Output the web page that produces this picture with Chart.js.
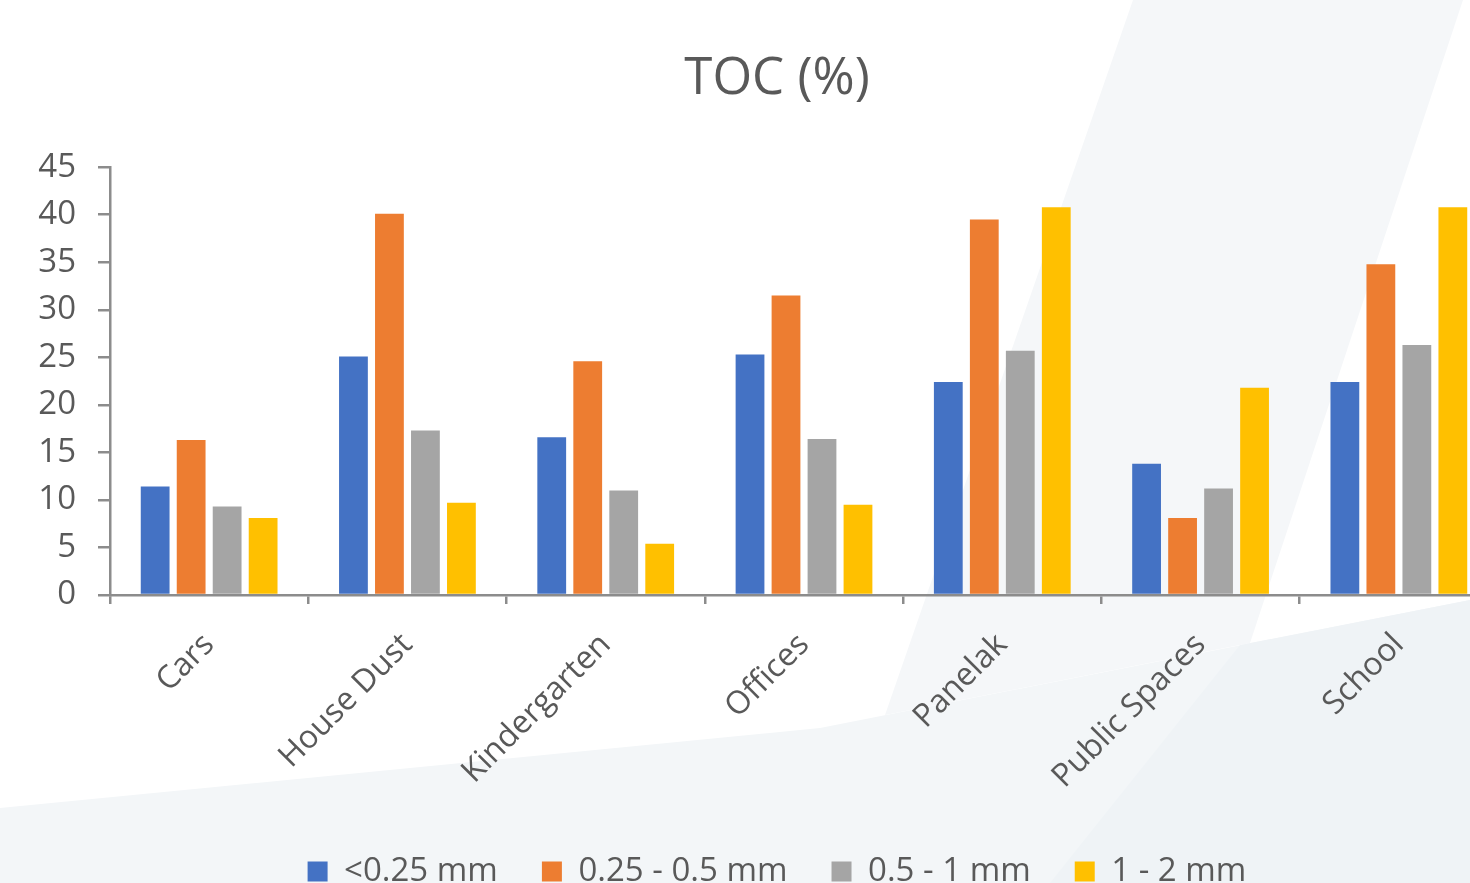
<!DOCTYPE html>
<html>
<head>
<meta charset="utf-8">
<script src="https://cdn.jsdelivr.net/npm/chart.js@4/dist/chart.umd.min.js"></script>
<style>
  html, body { margin: 0; padding: 0; width: 1470px; height: 883px; overflow: hidden; background: #ffffff; }
  #bg { position: absolute; left: 0; top: 0; }
  #wrap { position: absolute; left: 0; top: 0; width: 1554px; height: 898px; }
</style>
</head>
<body>
<svg id="bg" width="1470" height="883">
  <polygon points="1133,0 1463,0 1250,643 885,715" fill="#f5f7f9"/>
  <polygon points="0,808 820,728 1470,600 1470,883 0,883" fill="#f3f6f8"/>
  <polygon points="1240,645 1470,600 1470,883 1050,883" fill="#eff3f6"/>
</svg>
<div id="wrap"><canvas id="myChart" width="1554" height="898"></canvas></div>
<script>
let categories = ['Cars', 'House Dust', 'Kindergarten', 'Offices', 'Panelak', 'Public Spaces', 'School'];
let seriesNames = ['<0.25 mm', '0.25 - 0.5 mm', '0.5 - 1 mm', '1 - 2 mm'];
let fine = [11.4, 25.1, 16.6, 25.3, 22.4, 13.8, 22.4];
let medium = [16.3, 40.1, 24.6, 31.5, 39.5, 8.1, 34.8];
let coarse = [9.3, 17.3, 11.0, 16.4, 25.7, 11.2, 26.3];
let large = [8.1, 9.7, 5.4, 9.5, 40.8, 21.8, 40.8];
let colors = ['#4472C4', '#ED7D31', '#A5A5A5', '#FFC000'];

const font = '"Open Sans", "Noto Sans", sans-serif';
const textColor = '#595959';
const axisColor = '#8c8c8c';

let ctx = document.getElementById('myChart').getContext('2d');

let datasets = [fine, medium, coarse, large].map((values, i) => ({
    label: seriesNames[i],
    data: values,
    backgroundColor: colors[i],
    borderWidth: 0,
    categoryPercentage: 0.726,
    barPercentage: 0.8
}));

// y labels stick out left of the narrow axis box, so widen the box after layout
const widenYAxis = {
    id: 'widenYAxis',
    afterLayout(chart) {
        chart.scales.y.left = 0;
    }
};

let myChart = new Chart(ctx, {
    type: 'bar',
    data: { labels: categories, datasets: datasets },
    plugins: [widenYAxis],
    options: {
        responsive: false,
        animation: false,
        layout: { padding: { left: 56, right: 56, top: 0, bottom: 0 } },
        plugins: {
            tooltip: { enabled: false },
            title: {
                display: true,
                text: 'TOC (%)',
                color: textColor,
                font: { family: font, size: 51, weight: 'normal' },
                padding: { top: 49, bottom: 57 }
            },
            legend: {
                position: 'bottom',
                labels: {
                    color: textColor,
                    font: { family: font, size: 33 },
                    boxWidth: 20,
                    boxHeight: 20,
                    padding: 44
                }
            }
        },
        scales: {
            x: {
                border: { color: axisColor, width: 2.5 },
                grid: { drawOnChartArea: false, drawTicks: true, tickLength: 9, color: axisColor, lineWidth: 2.5, offset: true },
                ticks: {
                    color: textColor,
                    font: { family: font, size: 32 },
                    minRotation: 45,
                    maxRotation: 45,
                    padding: 22
                },
                // keep the plot bottom where the reference has it
                afterFit: function(scale) {
                    let lg = scale.chart.legend;
                    scale.height = scale.chart.height - (lg ? lg.height : 0) - 595;
                }
            },
            y: {
                min: 0,
                max: 45,
                border: { color: axisColor, width: 2.5 },
                grid: { drawOnChartArea: false, drawTicks: true, tickLength: 12, color: axisColor, lineWidth: 2.5 },
                ticks: {
                    stepSize: 5,
                    color: textColor,
                    font: { family: font, size: 33 },
                    padding: 22
                },
                afterFit: function(scale) {
                    scale.width = 54;
                }
            }
        }
    }
});
</script>
</body>
</html>
